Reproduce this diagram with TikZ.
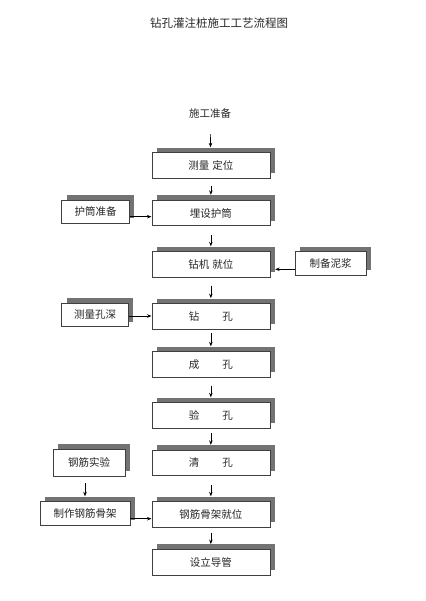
\documentclass[tikz,border=0pt]{standalone}
\usepackage{fontspec}
\setmainfont{Noto Sans CJK SC}
\usetikzlibrary{shadows,arrows.meta}
\begin{document}
\begin{tikzpicture}[x=1pt,y=-1pt,
  font=\fontsize{10.5}{12}\selectfont,
  boxbase/.style={draw=black!75, fill=white, line width=0.7pt, inner sep=0pt, text=black!85,
    drop shadow={shadow xshift=5pt, shadow yshift=5pt, fill=black!55, opacity=1}},
  mainbox/.style={boxbase, minimum width=118pt, minimum height=25.6pt},
  sidebox/.style={boxbase, minimum height=23.3pt},
  arr/.style={-{Stealth[length=4.5pt,width=3.5pt]}, line width=0.7pt, black},
  down/.style={arr, shorten <=#1, shorten >=5pt},
  down/.default=8pt
]
\useasboundingbox (0,0) rectangle (425,601);

\node[font=\fontsize{11.5}{13}\selectfont, text=black!85] (title) at (219,23) {钻孔灌注桩施工工艺流程图};
\node[inner sep=0pt, text=black!85] (prep) at (210,113) {施工准备};

\node[mainbox] (m1) at (210.85,165.5) {测量\hspace{0.3em}定位};
\node[mainbox] (m2) at (210.85,213) {埋设护筒};
\node[mainbox] (m3) at (210.85,264.5) {钻机\hspace{0.3em}就位};
\node[mainbox] (m4) at (210.85,316.3) {钻\hspace{2.2em}孔};
\node[mainbox] (m5) at (210.85,364.5) {成\hspace{2.2em}孔};
\node[mainbox] (m6) at (210.85,415.5) {验\hspace{2.2em}孔};
\node[mainbox] (m7) at (210.85,463) {清\hspace{2.2em}孔};
\node[mainbox] (m8) at (210.85,514.5) {钢筋骨架就位};
\node[mainbox] (m9) at (210.85,562.2) {设立导管};

\node[sidebox, minimum width=67.6pt] (s1) at (95.5,211.7) {护筒准备};
\node[sidebox, minimum width=71pt] (s2) at (330.5,263.3) {制备泥浆};
\node[sidebox, minimum width=66.6pt] (s3) at (95,315) {测量孔深};
\node[sidebox, minimum width=71.7pt, minimum height=26.7pt] (s4) at (89.2,462.7) {钢筋实验};
\node[sidebox, minimum width=90pt] (s5) at (85,513.3) {制作钢筋骨架};

\draw[arr, shorten <=16pt, shorten >=5pt] (prep) -- (m1);
\draw[down=7pt] (m1) -- (m2);
\draw[down=9pt] (m2) -- (m3);
\draw[down=8pt] (m3) -- (m4);
\draw[down=4pt] (m4) -- (m5);
\draw[down=8pt] (m5) -- (m6);
\draw[down=4.4pt] (m6) -- (m7);
\draw[down=9pt] (m7) -- (m8);
\draw[down=5pt] (m8) -- (m9);

\draw[arr] ([yshift=-5pt]s1.east) -- ([yshift=-5pt]s1.east -| m2.west);
\draw[arr, shorten >=5pt] ([yshift=-6pt]s2.west) -- ([yshift=-6pt]s2.west -| m3.east);
\draw[arr] ([yshift=-1pt]s3.east) -- ([yshift=-1pt]s3.east -| m4.west);
\draw[arr] ([yshift=-5.4pt]s5.east) -- ([yshift=-5.4pt]s5.east -| m8.west);
\draw[arr, shorten <=7pt, shorten >=5pt] (s4.south -| s5.north) -- (s5.north);
\end{tikzpicture}
\end{document}
